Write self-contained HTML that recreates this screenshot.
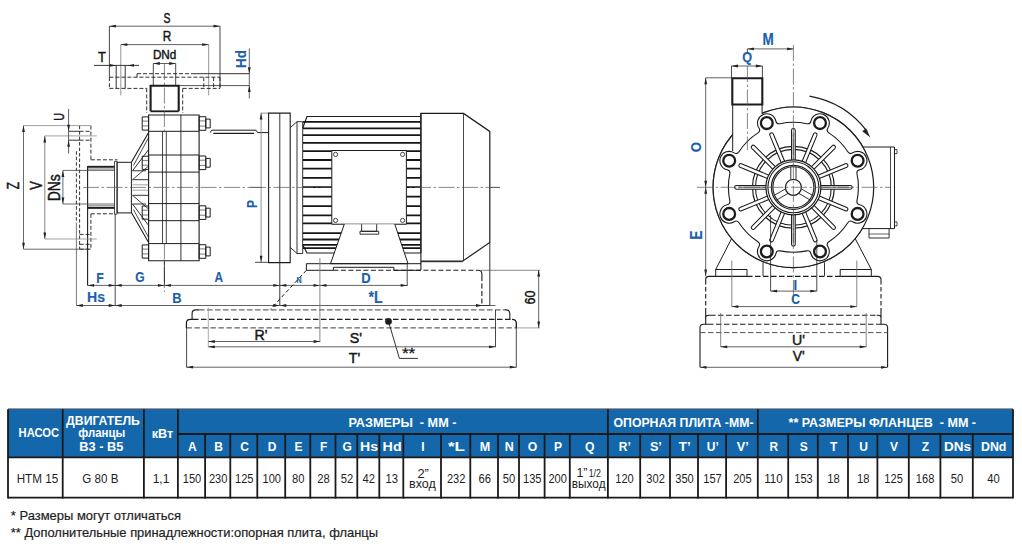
<!DOCTYPE html>
<html><head><meta charset="utf-8"><style>
html,body{margin:0;padding:0;background:#fff;width:1022px;height:560px;overflow:hidden;}
svg{display:block;font-family:"Liberation Sans",sans-serif;}
</style></head><body>
<svg width="1022" height="560" viewBox="0 0 1022 560">
<line x1="109.40" y1="26.20" x2="109.40" y2="77.20" stroke="#333" stroke-width="0.9"/>
<line x1="220.00" y1="26.20" x2="220.00" y2="88.40" stroke="#333" stroke-width="0.9"/>
<line x1="109.40" y1="26.20" x2="220.00" y2="26.20" stroke="#3a3a3a" stroke-width="0.8"/>
<polygon points="109.40,26.20 115.90,24.80 115.90,27.60" fill="#222"/>
<polygon points="220.00,26.20 213.50,27.60 213.50,24.80" fill="#222"/>
<text transform="translate(166.90 18.00) rotate(0) scale(0.68 1)" x="0" y="5.25" font-size="15.26" fill="#161616" font-weight="normal" text-anchor="middle" stroke="#161616" stroke-width="0.45">S</text>
<line x1="120.80" y1="44.60" x2="120.80" y2="95.30" stroke="#8a8a8a" stroke-width="0.9"/>
<line x1="208.70" y1="44.60" x2="208.70" y2="95.30" stroke="#8a8a8a" stroke-width="0.9"/>
<line x1="120.80" y1="44.60" x2="208.70" y2="44.60" stroke="#3a3a3a" stroke-width="0.8"/>
<polygon points="120.80,44.60 127.30,43.20 127.30,46.00" fill="#222"/>
<polygon points="208.70,44.60 202.20,46.00 202.20,43.20" fill="#222"/>
<text transform="translate(167.00 35.90) rotate(0) scale(0.76 1)" x="0" y="5.35" font-size="15.55" fill="#161616" font-weight="normal" text-anchor="middle" stroke="#161616" stroke-width="0.45">R</text>
<text transform="translate(102.00 56.50) rotate(0) scale(0.86 1)" x="0" y="5.15" font-size="14.97" fill="#161616" font-weight="normal" text-anchor="middle" stroke="#161616" stroke-width="0.45">T</text>
<line x1="94.00" y1="65.40" x2="139.00" y2="65.40" stroke="#222" stroke-width="0.9"/>
<polygon points="116.20,65.40 109.70,66.80 109.70,64.00" fill="#222"/>
<polygon points="127.50,65.40 134.00,64.00 134.00,66.80" fill="#222"/>
<line x1="116.20" y1="65.40" x2="116.20" y2="88.40" stroke="#1c1c1c" stroke-width="0.9"/>
<line x1="125.20" y1="65.40" x2="125.20" y2="88.40" stroke="#1c1c1c" stroke-width="0.9"/>
<text transform="translate(164.60 54.90) rotate(0) scale(0.95 1)" x="0" y="4.25" font-size="12.35" fill="#161616" font-weight="normal" text-anchor="middle" stroke="#161616" stroke-width="0.45">DNd</text>
<line x1="153.30" y1="63.50" x2="175.70" y2="63.50" stroke="#3a3a3a" stroke-width="0.8"/>
<polygon points="153.30,63.50 159.80,62.10 159.80,64.90" fill="#222"/>
<polygon points="175.70,63.50 169.20,64.90 169.20,62.10" fill="#222"/>
<line x1="153.30" y1="63.50" x2="153.30" y2="85.70" stroke="#1c1c1c" stroke-width="0.8"/>
<line x1="175.70" y1="63.50" x2="175.70" y2="85.70" stroke="#1c1c1c" stroke-width="0.8"/>
<line x1="192.00" y1="73.70" x2="249.30" y2="73.70" stroke="#1c1c1c" stroke-width="0.9"/>
<line x1="178.70" y1="85.60" x2="249.30" y2="85.60" stroke="#444" stroke-width="0.9"/>
<line x1="249.30" y1="48.50" x2="249.30" y2="98.50" stroke="#3a3a3a" stroke-width="0.8"/>
<polygon points="249.30,73.70 247.90,67.20 250.70,67.20" fill="#222"/>
<polygon points="249.30,85.60 250.70,92.10 247.90,92.10" fill="#222"/>
<text transform="translate(241.30 59.00) rotate(-90) scale(0.9 1)" x="0" y="5.15" font-size="14.97" fill="#1a60ab" font-weight="bold" text-anchor="middle" stroke="#1a60ab" stroke-width="0.15">Hd</text>
<line x1="137.00" y1="73.70" x2="192.00" y2="73.70" stroke="#1c1c1c" stroke-width="0.9" stroke-dasharray="4,2"/>
<line x1="137.00" y1="73.70" x2="137.00" y2="77.20" stroke="#1c1c1c" stroke-width="0.9" stroke-dasharray="4,2"/>
<line x1="109.40" y1="77.20" x2="220.00" y2="77.20" stroke="#1c1c1c" stroke-width="0.9" stroke-dasharray="4,2"/>
<line x1="109.40" y1="77.20" x2="109.40" y2="88.40" stroke="#1c1c1c" stroke-width="0.9" stroke-dasharray="4,2"/>
<line x1="220.00" y1="77.20" x2="220.00" y2="88.40" stroke="#1c1c1c" stroke-width="0.9" stroke-dasharray="4,2"/>
<line x1="109.40" y1="88.40" x2="146.70" y2="88.40" stroke="#1c1c1c" stroke-width="0.9" stroke-dasharray="4,2"/>
<line x1="182.70" y1="88.40" x2="220.00" y2="88.40" stroke="#1c1c1c" stroke-width="0.9" stroke-dasharray="4,2"/>
<line x1="203.80" y1="77.20" x2="203.80" y2="88.40" stroke="#1c1c1c" stroke-width="0.9" stroke-dasharray="4,2"/>
<line x1="213.60" y1="77.20" x2="213.60" y2="88.40" stroke="#1c1c1c" stroke-width="0.9" stroke-dasharray="4,2"/>
<line x1="146.70" y1="88.40" x2="146.70" y2="113.00" stroke="#1c1c1c" stroke-width="0.9" stroke-dasharray="4,2"/>
<line x1="182.70" y1="88.40" x2="182.70" y2="113.00" stroke="#1c1c1c" stroke-width="0.9" stroke-dasharray="4,2"/>
<polyline points="150.60,111.30 150.60,85.70 178.70,85.70 178.70,111.30" fill="none" stroke="#1c1c1c" stroke-width="2.1"/>
<line x1="150.60" y1="111.30" x2="178.70" y2="111.30" stroke="#1c1c1c" stroke-width="1.8"/>
<line x1="164.40" y1="64.00" x2="164.40" y2="131.00" stroke="#555" stroke-width="0.7" stroke-dasharray="16,2.5,2.5,2.5"/>
<line x1="164.40" y1="243.60" x2="164.40" y2="292.00" stroke="#555" stroke-width="0.7" stroke-dasharray="16,2.5,2.5,2.5"/>
<polygon points="148.60,115.00 199.10,115.00 199.10,260.70 148.60,260.70" fill="none" stroke="#1c1c1c" stroke-width="1.1"/>
<line x1="148.60" y1="131.30" x2="199.10" y2="131.30" stroke="#1c1c1c" stroke-width="1.0"/>
<line x1="148.60" y1="155.00" x2="199.10" y2="155.00" stroke="#1c1c1c" stroke-width="1.0"/>
<line x1="148.60" y1="172.10" x2="199.10" y2="172.10" stroke="#1c1c1c" stroke-width="1.0"/>
<line x1="148.60" y1="203.60" x2="199.10" y2="203.60" stroke="#1c1c1c" stroke-width="1.0"/>
<line x1="148.60" y1="220.70" x2="199.10" y2="220.70" stroke="#1c1c1c" stroke-width="1.0"/>
<line x1="148.60" y1="243.60" x2="199.10" y2="243.60" stroke="#1c1c1c" stroke-width="1.0"/>
<line x1="180.90" y1="115.00" x2="180.90" y2="260.70" stroke="#1c1c1c" stroke-width="0.9"/>
<line x1="162.50" y1="131.30" x2="162.50" y2="243.60" stroke="#1c1c1c" stroke-width="0.8"/>
<line x1="166.30" y1="131.30" x2="166.30" y2="243.60" stroke="#1c1c1c" stroke-width="0.8"/>
<polygon points="142.20,116.90 148.60,116.90 148.60,130.10 142.20,130.10" fill="none" stroke="#1c1c1c" stroke-width="1.0"/>
<line x1="142.20" y1="121.10" x2="148.60" y2="121.10" stroke="#1c1c1c" stroke-width="0.6"/>
<line x1="142.20" y1="125.90" x2="148.60" y2="125.90" stroke="#1c1c1c" stroke-width="0.6"/>
<polygon points="199.10,116.70 205.80,116.70 205.80,130.30 199.10,130.30" fill="none" stroke="#1c1c1c" stroke-width="1.0"/>
<line x1="199.10" y1="120.90" x2="205.80" y2="120.90" stroke="#1c1c1c" stroke-width="0.6"/>
<line x1="199.10" y1="126.10" x2="205.80" y2="126.10" stroke="#1c1c1c" stroke-width="0.6"/>
<polygon points="205.80,119.10 210.20,119.10 210.20,127.90 205.80,127.90" fill="none" stroke="#1c1c1c" stroke-width="1.0"/>
<polygon points="142.20,156.20 148.60,156.20 148.60,169.40 142.20,169.40" fill="none" stroke="#1c1c1c" stroke-width="1.0"/>
<line x1="142.20" y1="160.40" x2="148.60" y2="160.40" stroke="#1c1c1c" stroke-width="0.6"/>
<line x1="142.20" y1="165.20" x2="148.60" y2="165.20" stroke="#1c1c1c" stroke-width="0.6"/>
<polygon points="199.10,156.00 205.80,156.00 205.80,169.60 199.10,169.60" fill="none" stroke="#1c1c1c" stroke-width="1.0"/>
<line x1="199.10" y1="160.20" x2="205.80" y2="160.20" stroke="#1c1c1c" stroke-width="0.6"/>
<line x1="199.10" y1="165.40" x2="205.80" y2="165.40" stroke="#1c1c1c" stroke-width="0.6"/>
<polygon points="205.80,158.40 210.20,158.40 210.20,167.20 205.80,167.20" fill="none" stroke="#1c1c1c" stroke-width="1.0"/>
<polygon points="142.20,206.00 148.60,206.00 148.60,219.20 142.20,219.20" fill="none" stroke="#1c1c1c" stroke-width="1.0"/>
<line x1="142.20" y1="210.20" x2="148.60" y2="210.20" stroke="#1c1c1c" stroke-width="0.6"/>
<line x1="142.20" y1="215.00" x2="148.60" y2="215.00" stroke="#1c1c1c" stroke-width="0.6"/>
<polygon points="199.10,205.80 205.80,205.80 205.80,219.40 199.10,219.40" fill="none" stroke="#1c1c1c" stroke-width="1.0"/>
<line x1="199.10" y1="210.00" x2="205.80" y2="210.00" stroke="#1c1c1c" stroke-width="0.6"/>
<line x1="199.10" y1="215.20" x2="205.80" y2="215.20" stroke="#1c1c1c" stroke-width="0.6"/>
<polygon points="205.80,208.20 210.20,208.20 210.20,217.00 205.80,217.00" fill="none" stroke="#1c1c1c" stroke-width="1.0"/>
<polygon points="142.20,244.90 148.60,244.90 148.60,258.10 142.20,258.10" fill="none" stroke="#1c1c1c" stroke-width="1.0"/>
<line x1="142.20" y1="249.10" x2="148.60" y2="249.10" stroke="#1c1c1c" stroke-width="0.6"/>
<line x1="142.20" y1="253.90" x2="148.60" y2="253.90" stroke="#1c1c1c" stroke-width="0.6"/>
<polygon points="199.10,244.70 205.80,244.70 205.80,258.30 199.10,258.30" fill="none" stroke="#1c1c1c" stroke-width="1.0"/>
<line x1="199.10" y1="248.90" x2="205.80" y2="248.90" stroke="#1c1c1c" stroke-width="0.6"/>
<line x1="199.10" y1="254.10" x2="205.80" y2="254.10" stroke="#1c1c1c" stroke-width="0.6"/>
<polygon points="205.80,247.10 210.20,247.10 210.20,255.90 205.80,255.90" fill="none" stroke="#1c1c1c" stroke-width="1.0"/>
<line x1="131.40" y1="162.30" x2="148.60" y2="132.50" stroke="#1c1c1c" stroke-width="1.1"/>
<line x1="133.50" y1="165.50" x2="148.60" y2="137.50" stroke="#1c1c1c" stroke-width="0.8"/>
<line x1="131.40" y1="212.50" x2="148.60" y2="242.50" stroke="#1c1c1c" stroke-width="1.1"/>
<line x1="133.50" y1="209.50" x2="148.60" y2="237.50" stroke="#1c1c1c" stroke-width="0.8"/>
<line x1="132.50" y1="170.80" x2="148.60" y2="149.60" stroke="#1c1c1c" stroke-width="0.9"/>
<line x1="132.50" y1="204.00" x2="148.60" y2="225.40" stroke="#1c1c1c" stroke-width="0.9"/>
<line x1="132.50" y1="170.80" x2="146.00" y2="170.80" stroke="#1c1c1c" stroke-width="0.9"/>
<line x1="132.50" y1="204.00" x2="146.00" y2="204.00" stroke="#1c1c1c" stroke-width="0.9"/>
<line x1="132.50" y1="179.70" x2="148.60" y2="166.00" stroke="#1c1c1c" stroke-width="0.8"/>
<line x1="132.50" y1="195.30" x2="148.60" y2="209.00" stroke="#1c1c1c" stroke-width="0.8"/>
<line x1="132.50" y1="179.70" x2="148.60" y2="179.70" stroke="#1c1c1c" stroke-width="0.9"/>
<line x1="132.50" y1="195.30" x2="148.60" y2="195.30" stroke="#1c1c1c" stroke-width="0.9"/>
<line x1="132.50" y1="184.80" x2="148.60" y2="184.80" stroke="#666" stroke-width="0.6"/>
<line x1="132.50" y1="190.20" x2="148.60" y2="190.20" stroke="#666" stroke-width="0.6"/>
<polygon points="117.10,162.30 131.40,162.30 131.40,212.90 117.10,212.90" fill="none" stroke="#1c1c1c" stroke-width="1.0"/>
<polygon points="114.50,161.40 117.10,161.40 117.10,214.10 114.50,214.10" fill="none" stroke="#1c1c1c" stroke-width="0.8"/>
<line x1="87.70" y1="166.80" x2="114.50" y2="166.80" stroke="#1c1c1c" stroke-width="1.9"/>
<line x1="87.70" y1="207.90" x2="114.50" y2="207.90" stroke="#1c1c1c" stroke-width="1.9"/>
<line x1="87.70" y1="169.00" x2="114.50" y2="169.00" stroke="#1c1c1c" stroke-width="0.6"/>
<line x1="87.70" y1="205.80" x2="114.50" y2="205.80" stroke="#1c1c1c" stroke-width="0.6"/>
<line x1="87.60" y1="166.00" x2="87.60" y2="285.40" stroke="#1c1c1c" stroke-width="1.1"/>
<line x1="83.00" y1="187.40" x2="262.00" y2="187.40" stroke="#555" stroke-width="0.7" stroke-dasharray="16,2.5,2.5,2.5"/>
<line x1="79.60" y1="125.60" x2="79.60" y2="249.20" stroke="#1c1c1c" stroke-width="0.9" stroke-dasharray="3.5,2"/>
<line x1="76.40" y1="151.20" x2="76.40" y2="223.60" stroke="#1c1c1c" stroke-width="0.9" stroke-dasharray="3.5,2"/>
<line x1="76.40" y1="223.60" x2="76.40" y2="305.50" stroke="#555" stroke-width="0.8"/>
<line x1="90.90" y1="125.60" x2="90.90" y2="159.80" stroke="#1c1c1c" stroke-width="0.9" stroke-dasharray="4,2"/>
<line x1="90.90" y1="159.80" x2="117.50" y2="159.80" stroke="#1c1c1c" stroke-width="0.9" stroke-dasharray="4,2"/>
<line x1="90.90" y1="213.80" x2="90.90" y2="249.20" stroke="#1c1c1c" stroke-width="0.9" stroke-dasharray="4,2"/>
<line x1="90.90" y1="213.80" x2="114.50" y2="213.80" stroke="#1c1c1c" stroke-width="0.9" stroke-dasharray="4,2"/>
<line x1="79.60" y1="131.30" x2="90.90" y2="131.30" stroke="#1c1c1c" stroke-width="0.9" stroke-dasharray="4,2"/>
<line x1="79.60" y1="140.20" x2="90.90" y2="140.20" stroke="#1c1c1c" stroke-width="0.9" stroke-dasharray="4,2"/>
<line x1="79.60" y1="234.40" x2="90.90" y2="234.40" stroke="#1c1c1c" stroke-width="0.9" stroke-dasharray="4,2"/>
<line x1="79.60" y1="244.30" x2="90.90" y2="244.30" stroke="#1c1c1c" stroke-width="0.9" stroke-dasharray="4,2"/>
<line x1="79.60" y1="249.20" x2="90.90" y2="249.20" stroke="#1c1c1c" stroke-width="0.9" stroke-dasharray="4,2"/>
<line x1="68.60" y1="131.30" x2="79.60" y2="131.30" stroke="#1c1c1c" stroke-width="0.9"/>
<line x1="68.60" y1="140.20" x2="79.60" y2="140.20" stroke="#1c1c1c" stroke-width="0.9"/>
<line x1="23.50" y1="125.60" x2="90.90" y2="125.60" stroke="#8a8a8a" stroke-width="0.8"/>
<line x1="23.50" y1="249.20" x2="90.90" y2="249.20" stroke="#444" stroke-width="0.8"/>
<line x1="23.50" y1="125.60" x2="23.50" y2="249.20" stroke="#444" stroke-width="0.8"/>
<polygon points="23.50,125.60 24.90,132.10 22.10,132.10" fill="#222"/>
<polygon points="23.50,249.20 22.10,242.70 24.90,242.70" fill="#222"/>
<text transform="translate(13.60 185.70) rotate(-90) scale(0.74 1)" x="0" y="5.45" font-size="15.84" fill="#161616" font-weight="normal" text-anchor="middle" stroke="#161616" stroke-width="0.45">Z</text>
<line x1="44.80" y1="135.90" x2="96.70" y2="135.90" stroke="#8a8a8a" stroke-width="0.8"/>
<line x1="44.80" y1="239.00" x2="96.70" y2="239.00" stroke="#8a8a8a" stroke-width="0.8"/>
<line x1="44.80" y1="135.90" x2="44.80" y2="239.00" stroke="#666" stroke-width="0.8"/>
<polygon points="44.80,135.90 46.20,142.40 43.40,142.40" fill="#222"/>
<polygon points="44.80,239.00 43.40,232.50 46.20,232.50" fill="#222"/>
<text transform="translate(36.50 185.50) rotate(-90) scale(0.8 1)" x="0" y="5.45" font-size="15.84" fill="#161616" font-weight="normal" text-anchor="middle" stroke="#161616" stroke-width="0.45">V</text>
<line x1="62.90" y1="170.40" x2="114.50" y2="170.40" stroke="#444" stroke-width="0.8"/>
<line x1="62.90" y1="204.00" x2="114.50" y2="204.00" stroke="#444" stroke-width="0.8"/>
<line x1="62.90" y1="170.40" x2="62.90" y2="204.00" stroke="#444" stroke-width="0.8"/>
<polygon points="62.90,170.40 64.30,176.90 61.50,176.90" fill="#222"/>
<polygon points="62.90,204.00 61.50,197.50 64.30,197.50" fill="#222"/>
<text transform="translate(54.90 187.70) rotate(-90) scale(0.87 1)" x="0" y="5.50" font-size="15.99" fill="#161616" font-weight="normal" text-anchor="middle" stroke="#161616" stroke-width="0.45">DNs</text>
<line x1="68.60" y1="108.90" x2="68.60" y2="153.60" stroke="#333" stroke-width="0.8"/>
<polygon points="68.60,131.30 67.20,124.80 70.00,124.80" fill="#222"/>
<polygon points="68.60,140.20 70.00,146.70 67.20,146.70" fill="#222"/>
<text transform="translate(59.20 116.80) rotate(-90) scale(0.72 1)" x="0" y="5.15" font-size="14.97" fill="#161616" font-weight="normal" text-anchor="middle" stroke="#161616" stroke-width="0.45">U</text>
<polyline points="210.20,132.60 211.70,130.20 256.00,130.20 257.50,132.60 268.60,132.60" fill="none" stroke="#1c1c1c" stroke-width="1.0"/>
<line x1="213.30" y1="133.40" x2="254.00" y2="133.40" stroke="#1c1c1c" stroke-width="1.3"/>
<line x1="261.10" y1="113.10" x2="261.10" y2="262.30" stroke="#777" stroke-width="0.8"/>
<polygon points="261.10,113.10 262.50,119.60 259.70,119.60" fill="#222"/>
<polygon points="261.10,262.30 259.70,255.80 262.50,255.80" fill="#222"/>
<line x1="260.50" y1="113.10" x2="268.60" y2="113.10" stroke="#777" stroke-width="0.8"/>
<line x1="255.00" y1="262.30" x2="268.70" y2="262.30" stroke="#1c1c1c" stroke-width="0.8"/>
<text transform="translate(251.70 204.00) rotate(-90) scale(0.85 1)" x="0" y="4.85" font-size="14.10" fill="#1a60ab" font-weight="bold" text-anchor="middle" stroke="#1a60ab" stroke-width="0.15">P</text>
<polygon points="268.60,113.10 290.20,113.10 290.20,262.60 268.60,262.60" fill="none" stroke="#1c1c1c" stroke-width="1.1"/>
<line x1="279.80" y1="113.10" x2="279.80" y2="305.40" stroke="#1c1c1c" stroke-width="0.9"/>
<polyline points="290.20,127.70 297.00,121.70 302.70,121.70" fill="none" stroke="#1c1c1c" stroke-width="0.9"/>
<polyline points="290.20,247.40 297.00,253.50 302.70,253.50" fill="none" stroke="#1c1c1c" stroke-width="0.9"/>
<line x1="297.00" y1="121.70" x2="297.00" y2="253.50" stroke="#1c1c1c" stroke-width="0.9"/>
<line x1="302.70" y1="121.70" x2="302.70" y2="253.50" stroke="#1c1c1c" stroke-width="0.9"/>
<polyline points="302.70,128.00 307.00,116.50 421.00,116.50" fill="none" stroke="#1c1c1c" stroke-width="1.2"/>
<polyline points="302.70,245.00 307.00,253.00 421.00,253.00" fill="none" stroke="#1c1c1c" stroke-width="1.2"/>
<line x1="303.00" y1="121.80" x2="421.00" y2="121.80" stroke="#151515" stroke-width="1.8"/>
<line x1="303.00" y1="128.40" x2="421.00" y2="128.40" stroke="#151515" stroke-width="1.8"/>
<line x1="303.00" y1="135.10" x2="421.00" y2="135.10" stroke="#151515" stroke-width="1.8"/>
<line x1="303.00" y1="142.90" x2="421.00" y2="142.90" stroke="#151515" stroke-width="1.8"/>
<line x1="303.00" y1="151.20" x2="421.00" y2="151.20" stroke="#151515" stroke-width="1.8"/>
<line x1="303.00" y1="160.00" x2="421.00" y2="160.00" stroke="#151515" stroke-width="1.8"/>
<line x1="303.00" y1="168.60" x2="421.00" y2="168.60" stroke="#151515" stroke-width="1.8"/>
<line x1="303.00" y1="177.90" x2="421.00" y2="177.90" stroke="#151515" stroke-width="1.8"/>
<line x1="303.00" y1="187.10" x2="421.00" y2="187.10" stroke="#151515" stroke-width="1.8"/>
<line x1="303.00" y1="196.60" x2="421.00" y2="196.60" stroke="#151515" stroke-width="1.8"/>
<line x1="303.00" y1="206.10" x2="421.00" y2="206.10" stroke="#151515" stroke-width="1.8"/>
<line x1="303.00" y1="215.40" x2="421.00" y2="215.40" stroke="#151515" stroke-width="1.8"/>
<line x1="303.00" y1="223.40" x2="421.00" y2="223.40" stroke="#151515" stroke-width="1.8"/>
<line x1="303.00" y1="233.20" x2="421.00" y2="233.20" stroke="#151515" stroke-width="1.8"/>
<line x1="303.00" y1="239.50" x2="421.00" y2="239.50" stroke="#151515" stroke-width="1.8"/>
<line x1="303.00" y1="244.80" x2="421.00" y2="244.80" stroke="#151515" stroke-width="1.8"/>
<line x1="303.00" y1="248.20" x2="421.00" y2="248.20" stroke="#151515" stroke-width="1.8"/>
<line x1="250.00" y1="187.40" x2="500.00" y2="187.40" stroke="#555" stroke-width="0.7" stroke-dasharray="16,2.5,2.5,2.5"/>
<polygon points="331.80,150.50 406.40,150.50 406.40,224.20 331.80,224.20" fill="#fff" stroke="#1c1c1c" stroke-width="1.0"/>
<circle cx="335.60" cy="154.40" r="2.1" fill="none" stroke="#1c1c1c" stroke-width="0.8"/>
<circle cx="402.60" cy="154.40" r="2.1" fill="none" stroke="#1c1c1c" stroke-width="0.8"/>
<circle cx="335.60" cy="220.40" r="2.1" fill="none" stroke="#1c1c1c" stroke-width="0.8"/>
<circle cx="402.60" cy="220.40" r="2.1" fill="none" stroke="#1c1c1c" stroke-width="0.8"/>
<polyline points="344.30,224.20 330.50,263.70 408.00,263.70 394.80,224.20" fill="#fff" stroke="#1c1c1c" stroke-width="1.0"/>
<polyline points="361.60,224.20 361.60,231.30 376.70,231.30 376.70,224.20" fill="none" stroke="#1c1c1c" stroke-width="0.9"/>
<polygon points="360.00,231.30 378.70,231.30 378.70,234.20 360.00,234.20" fill="none" stroke="#1c1c1c" stroke-width="0.9"/>
<polyline points="306.40,263.70 421.00,263.70" fill="none" stroke="#1c1c1c" stroke-width="1.0"/>
<polyline points="306.40,263.70 306.40,270.30 333.40,270.30 333.40,267.30 393.90,267.30 393.90,270.30 421.00,270.30" fill="none" stroke="#1c1c1c" stroke-width="1.0"/>
<line x1="421.00" y1="261.70" x2="462.50" y2="261.70" stroke="#1c1c1c" stroke-width="1.0"/>
<polyline points="420.90,253.00 420.90,113.40 463.50,113.40 489.80,131.40 489.80,242.50 462.50,261.20 421.00,261.20" fill="#fff" stroke="#1c1c1c" stroke-width="1.2"/>
<line x1="463.50" y1="113.40" x2="463.50" y2="261.20" stroke="#1c1c1c" stroke-width="0.8"/>
<line x1="420.90" y1="113.40" x2="420.90" y2="270.00" stroke="#1c1c1c" stroke-width="1.1"/>
<line x1="415.00" y1="187.40" x2="500.00" y2="187.40" stroke="#555" stroke-width="0.7" stroke-dasharray="16,2.5,2.5,2.5"/>
<line x1="489.80" y1="242.50" x2="489.80" y2="305.50" stroke="#1c1c1c" stroke-width="0.9"/>
<line x1="333.40" y1="270.30" x2="478.00" y2="270.30" stroke="#1c1c1c" stroke-width="1.1" stroke-dasharray="5,2.5"/>
<path d="M 478 270.3 Q 481.9 270.3 481.9 274 L 481.9 276" fill="none" stroke="#1c1c1c" stroke-width="1.1" />
<line x1="481.90" y1="276.00" x2="481.90" y2="305.50" stroke="#1c1c1c" stroke-width="1.1" stroke-dasharray="5,2.5"/>
<line x1="481.90" y1="305.50" x2="489.80" y2="305.50" stroke="#1c1c1c" stroke-width="1.0"/>
<path d="M 192.1 319.3 L 192.1 313.5 Q 192.1 309.9 196 309.9 L 199 309.9" fill="none" stroke="#1c1c1c" stroke-width="1.1" />
<line x1="199.00" y1="309.90" x2="505.00" y2="309.90" stroke="#666" stroke-width="1.1" stroke-dasharray="5.5,2.5"/>
<path d="M 505 309.9 L 506 309.9 Q 509.8 309.9 509.8 313.5 L 509.8 319.3" fill="none" stroke="#1c1c1c" stroke-width="1.1" />
<path d="M 186.4 327.9 L 186.4 323 Q 186.4 319.3 190.5 319.3 L 193 319.3" fill="none" stroke="#1c1c1c" stroke-width="1.2" />
<line x1="193.00" y1="319.30" x2="512.00" y2="319.30" stroke="#1c1c1c" stroke-width="1.2" stroke-dasharray="5.5,2.5"/>
<path d="M 512 319.3 Q 516.4 319.3 516.4 323.5 L 516.4 327.9" fill="none" stroke="#1c1c1c" stroke-width="1.2" />
<line x1="186.40" y1="327.90" x2="516.40" y2="327.90" stroke="#666" stroke-width="1.1" stroke-dasharray="5.5,2.5"/>
<circle cx="388.50" cy="321.40" r="3.2" fill="#1c1c1c" stroke="#1c1c1c" stroke-width="0.5"/>
<polyline points="388.50,321.40 399.40,358.40 417.90,358.40" fill="none" stroke="#1c1c1c" stroke-width="0.9"/>
<text transform="translate(408.60 353.00) rotate(0) scale(1.25 1)" x="0" y="4.75" font-size="13.81" fill="#161616" font-weight="normal" text-anchor="middle" stroke="#161616" stroke-width="0.25">**</text>
<line x1="481.00" y1="270.30" x2="540.00" y2="270.30" stroke="#555" stroke-width="0.7"/>
<line x1="516.40" y1="327.90" x2="540.00" y2="327.90" stroke="#777" stroke-width="0.7"/>
<line x1="538.70" y1="270.00" x2="538.70" y2="327.90" stroke="#3a3a3a" stroke-width="0.8"/>
<polygon points="538.70,270.00 540.10,276.50 537.30,276.50" fill="#222"/>
<polygon points="538.70,327.90 537.30,321.40 540.10,321.40" fill="#222"/>
<text transform="translate(530.00 297.50) rotate(-90) scale(0.82 1)" x="0" y="5.25" font-size="15.26" fill="#161616" font-weight="normal" text-anchor="middle" stroke="#161616" stroke-width="0.45">60</text>
<line x1="87.60" y1="285.40" x2="407.20" y2="285.40" stroke="#3a3a3a" stroke-width="0.8"/>
<polygon points="87.60,285.40 94.10,284.00 94.10,286.80" fill="#222"/>
<polygon points="115.20,285.40 108.70,286.80 108.70,284.00" fill="#222"/>
<polygon points="115.20,285.40 121.70,284.00 121.70,286.80" fill="#222"/>
<polygon points="164.40,285.40 157.90,286.80 157.90,284.00" fill="#222"/>
<polygon points="164.40,285.40 170.90,284.00 170.90,286.80" fill="#222"/>
<polygon points="279.80,285.40 273.30,286.80 273.30,284.00" fill="#222"/>
<polygon points="279.80,285.40 286.30,284.00 286.30,286.80" fill="#222"/>
<polygon points="320.00,285.40 313.50,286.80 313.50,284.00" fill="#222"/>
<polygon points="320.00,285.40 326.50,284.00 326.50,286.80" fill="#222"/>
<polygon points="407.20,285.40 400.70,286.80 400.70,284.00" fill="#222"/>
<line x1="115.20" y1="214.00" x2="115.20" y2="305.50" stroke="#1c1c1c" stroke-width="0.8"/>
<line x1="164.40" y1="260.70" x2="164.40" y2="285.40" stroke="#1c1c1c" stroke-width="0.8"/>
<line x1="76.40" y1="305.50" x2="495.50" y2="305.50" stroke="#3a3a3a" stroke-width="0.8"/>
<polygon points="76.40,305.50 82.90,304.10 82.90,306.90" fill="#222"/>
<polygon points="115.20,305.50 108.70,306.90 108.70,304.10" fill="#222"/>
<polygon points="115.20,305.50 121.70,304.10 121.70,306.90" fill="#222"/>
<polygon points="279.80,305.50 273.30,306.90 273.30,304.10" fill="#222"/>
<polygon points="279.80,305.50 286.30,304.10 286.30,306.90" fill="#222"/>
<polygon points="482.50,305.50 476.00,306.90 476.00,304.10" fill="#222"/>
<line x1="407.20" y1="264.00" x2="407.20" y2="286.00" stroke="#1c1c1c" stroke-width="0.8"/>
<line x1="319.90" y1="258.00" x2="319.90" y2="342.00" stroke="#777" stroke-width="0.9"/>
<text transform="translate(100.00 277.60) rotate(0) scale(0.83 1)" x="0" y="5.10" font-size="14.83" fill="#1a60ab" font-weight="bold" text-anchor="middle" stroke="#1a60ab" stroke-width="0.15">F</text>
<text transform="translate(139.90 277.20) rotate(0) scale(0.85 1)" x="0" y="4.90" font-size="14.24" fill="#1a60ab" font-weight="bold" text-anchor="middle" stroke="#1a60ab" stroke-width="0.15">G</text>
<text transform="translate(218.90 277.20) rotate(0) scale(0.85 1)" x="0" y="4.80" font-size="13.95" fill="#1a60ab" font-weight="bold" text-anchor="middle" stroke="#1a60ab" stroke-width="0.15">A</text>
<text transform="translate(96.00 296.40) rotate(0) scale(0.95 1)" x="0" y="5.10" font-size="14.83" fill="#1a60ab" font-weight="bold" text-anchor="middle" stroke="#1a60ab" stroke-width="0.15">Hs</text>
<text transform="translate(177.00 297.30) rotate(0) scale(0.85 1)" x="0" y="5.20" font-size="15.12" fill="#1a60ab" font-weight="bold" text-anchor="middle" stroke="#1a60ab" stroke-width="0.15">B</text>
<text transform="translate(366.00 277.50) rotate(0) scale(0.85 1)" x="0" y="5.25" font-size="15.26" fill="#1a60ab" font-weight="bold" text-anchor="middle" stroke="#1a60ab" stroke-width="0.15">D</text>
<text transform="translate(375.60 297.40) rotate(0) scale(0.9 1)" x="0" y="5.40" font-size="15.70" fill="#1a60ab" font-weight="bold" text-anchor="middle" stroke="#1a60ab" stroke-width="0.15">*L</text>
<text transform="translate(299.00 279.70) rotate(0) scale(0.8 1)" x="0" y="3.05" font-size="8.87" fill="#1a60ab" font-weight="bold" text-anchor="middle" stroke="#1a60ab" stroke-width="0.15">N</text>
<line x1="306.40" y1="270.30" x2="270.10" y2="309.60" stroke="#1c1c1c" stroke-width="1.0" stroke-dasharray="4,2.5"/>
<line x1="208.30" y1="307.40" x2="208.30" y2="347.20" stroke="#999" stroke-width="0.8"/>
<line x1="208.30" y1="341.50" x2="320.10" y2="341.50" stroke="#3a3a3a" stroke-width="0.8"/>
<polygon points="208.30,341.50 214.80,340.10 214.80,342.90" fill="#222"/>
<polygon points="320.10,341.50 313.60,342.90 313.60,340.10" fill="#222"/>
<text transform="translate(261.00 334.70) rotate(0) scale(0.98 1)" x="0" y="5.00" font-size="14.53" fill="#161616" font-weight="normal" text-anchor="middle" stroke="#161616" stroke-width="0.45">R'</text>
<line x1="208.30" y1="346.80" x2="495.50" y2="346.80" stroke="#3a3a3a" stroke-width="0.8"/>
<polygon points="208.30,346.80 214.80,345.40 214.80,348.20" fill="#222"/>
<polygon points="495.50,346.80 489.00,348.20 489.00,345.40" fill="#222"/>
<line x1="495.50" y1="310.00" x2="495.50" y2="347.20" stroke="#1c1c1c" stroke-width="0.8"/>
<text transform="translate(355.80 337.60) rotate(0) scale(0.98 1)" x="0" y="5.00" font-size="14.53" fill="#161616" font-weight="normal" text-anchor="middle" stroke="#161616" stroke-width="0.45">S'</text>
<line x1="186.60" y1="322.40" x2="186.60" y2="367.50" stroke="#1c1c1c" stroke-width="0.8"/>
<line x1="516.30" y1="322.50" x2="516.30" y2="367.50" stroke="#1c1c1c" stroke-width="0.8"/>
<line x1="186.60" y1="367.20" x2="516.30" y2="367.20" stroke="#3a3a3a" stroke-width="0.8"/>
<polygon points="186.60,367.20 193.10,365.80 193.10,368.60" fill="#222"/>
<polygon points="516.30,367.20 509.80,368.60 509.80,365.80" fill="#222"/>
<text transform="translate(354.50 357.60) rotate(0) scale(0.98 1)" x="0" y="5.00" font-size="14.53" fill="#161616" font-weight="normal" text-anchor="middle" stroke="#161616" stroke-width="0.45">T'</text>
<line x1="747.40" y1="48.90" x2="793.60" y2="48.90" stroke="#3a3a3a" stroke-width="0.8"/>
<polygon points="747.40,48.90 753.90,47.50 753.90,50.30" fill="#222"/>
<polygon points="793.60,48.90 787.10,50.30 787.10,47.50" fill="#222"/>
<line x1="747.40" y1="48.90" x2="747.40" y2="52.00" stroke="#1c1c1c" stroke-width="0.8"/>
<text transform="translate(768.00 39.40) rotate(0) scale(0.85 1)" x="0" y="5.45" font-size="15.84" fill="#1a60ab" font-weight="bold" text-anchor="middle" stroke="#1a60ab" stroke-width="0.15">M</text>
<line x1="731.50" y1="66.00" x2="762.40" y2="66.00" stroke="#3a3a3a" stroke-width="0.8"/>
<polygon points="731.50,66.00 738.00,64.60 738.00,67.40" fill="#222"/>
<polygon points="762.40,66.00 755.90,67.40 755.90,64.60" fill="#222"/>
<line x1="731.50" y1="66.00" x2="731.50" y2="78.00" stroke="#1c1c1c" stroke-width="0.8"/>
<line x1="762.40" y1="66.00" x2="762.40" y2="78.00" stroke="#1c1c1c" stroke-width="0.8"/>
<text transform="translate(747.20 57.30) rotate(0) scale(0.85 1)" x="0" y="5.10" font-size="14.83" fill="#1a60ab" font-weight="bold" text-anchor="middle" stroke="#1a60ab" stroke-width="0.15">Q</text>
<line x1="705.70" y1="77.80" x2="732.00" y2="77.80" stroke="#3a3a3a" stroke-width="0.8"/>
<line x1="705.70" y1="77.80" x2="705.70" y2="276.50" stroke="#3a3a3a" stroke-width="0.8"/>
<polygon points="705.70,77.80 707.10,84.30 704.30,84.30" fill="#222"/>
<polygon points="705.70,187.30 704.30,180.80 707.10,180.80" fill="#222"/>
<polygon points="705.70,187.30 707.10,193.80 704.30,193.80" fill="#222"/>
<polygon points="705.70,276.00 704.30,269.50 707.10,269.50" fill="#222"/>
<text transform="translate(696.00 147.10) rotate(-90) scale(0.85 1)" x="0" y="5.35" font-size="15.55" fill="#1a60ab" font-weight="bold" text-anchor="middle" stroke="#1a60ab" stroke-width="0.15">O</text>
<text transform="translate(696.40 235.00) rotate(-90) scale(0.85 1)" x="0" y="5.65" font-size="16.42" fill="#1a60ab" font-weight="bold" text-anchor="middle" stroke="#1a60ab" stroke-width="0.15">E</text>
<circle cx="793.40" cy="187.30" r="80.3" fill="#fff" stroke="#1c1c1c" stroke-width="1.2"/>
<polyline points="862.00,147.00 894.50,147.00 894.50,228.60 862.00,228.60" fill="#fff" stroke="#1c1c1c" stroke-width="1.0"/>
<line x1="890.50" y1="147.00" x2="890.50" y2="228.60" stroke="#1c1c1c" stroke-width="0.8"/>
<polyline points="894.50,149.60 897.00,149.60 897.00,153.60 894.50,153.60" fill="none" stroke="#1c1c1c" stroke-width="0.8"/>
<polyline points="894.50,221.90 897.00,221.90 897.00,225.90 894.50,225.90" fill="none" stroke="#1c1c1c" stroke-width="0.8"/>
<polyline points="869.00,228.60 869.00,238.00 889.10,238.00 889.10,228.60" fill="none" stroke="#1c1c1c" stroke-width="0.9"/>
<line x1="869.00" y1="234.00" x2="889.10" y2="234.00" stroke="#1c1c1c" stroke-width="0.7"/>
<path d="M 713.10 187.3 A 80.3 80.3 0 0 1 873.70 187.3 A 80.3 80.3 0 0 1 713.10 187.3" fill="#fff" stroke="#1c1c1c" stroke-width="1.2"/>
<polyline points="731.80,238.20 715.70,269.50" fill="none" stroke="#1c1c1c" stroke-width="1.0"/>
<polyline points="855.00,238.20 871.30,269.50" fill="none" stroke="#1c1c1c" stroke-width="1.0"/>
<polyline points="715.70,275.90 715.70,269.50 747.00,269.50 747.00,275.90" fill="none" stroke="#1c1c1c" stroke-width="1.0"/>
<polyline points="840.20,275.90 840.20,269.50 871.30,269.50 871.30,275.90" fill="none" stroke="#1c1c1c" stroke-width="1.0"/>
<line x1="763.00" y1="262.30" x2="763.00" y2="275.90" stroke="#1c1c1c" stroke-width="0.9"/>
<line x1="824.50" y1="262.30" x2="824.50" y2="275.90" stroke="#1c1c1c" stroke-width="0.9"/>
<rect x="732.7" y="78" width="29.4" height="74" fill="#fff"/>
<polygon points="732.30,78.30 762.30,78.30 762.30,104.50 732.30,104.50" fill="none" stroke="#1c1c1c" stroke-width="2.1"/>
<line x1="732.70" y1="104.50" x2="732.70" y2="151.00" stroke="#1c1c1c" stroke-width="1.0"/>
<line x1="762.10" y1="104.50" x2="762.10" y2="114.00" stroke="#1c1c1c" stroke-width="1.0"/>
<path d="M 857.01 200.69 A 3.5 3.5 0 0 0 859.66 204.83 A 9.3 9.3 0 1 1 852.64 221.76 A 3.5 3.5 0 0 0 847.84 222.81 A 65.0 65.0 0 0 1 828.91 241.74 A 3.5 3.5 0 0 0 827.86 246.54 A 9.3 9.3 0 1 1 810.93 253.56 A 3.5 3.5 0 0 0 806.79 250.91 A 65.0 65.0 0 0 1 780.01 250.91 A 3.5 3.5 0 0 0 775.87 253.56 A 9.3 9.3 0 1 1 758.94 246.54 A 3.5 3.5 0 0 0 757.89 241.74 A 65.0 65.0 0 0 1 738.96 222.81 A 3.5 3.5 0 0 0 734.16 221.76 A 9.3 9.3 0 1 1 727.14 204.83 A 3.5 3.5 0 0 0 729.79 200.69 A 65.0 65.0 0 0 1 729.79 173.91 A 3.5 3.5 0 0 0 727.14 169.77 A 9.3 9.3 0 1 1 734.16 152.84 A 3.5 3.5 0 0 0 738.96 151.79 A 65.0 65.0 0 0 1 757.89 132.86 A 3.5 3.5 0 0 0 758.94 128.06 A 9.3 9.3 0 1 1 775.87 121.04 A 3.5 3.5 0 0 0 780.01 123.69 A 65.0 65.0 0 0 1 806.79 123.69 A 3.5 3.5 0 0 0 810.93 121.04 A 9.3 9.3 0 1 1 827.86 128.06 A 3.5 3.5 0 0 0 828.91 132.86 A 65.0 65.0 0 0 1 847.84 151.79 A 3.5 3.5 0 0 0 852.64 152.84 A 9.3 9.3 0 1 1 859.66 169.77 A 3.5 3.5 0 0 0 857.01 173.91 A 65.0 65.0 0 0 1 857.01 200.69 Z" fill="#fff" stroke="#1c1c1c" stroke-width="1.1" />
<circle cx="857.61" cy="213.90" r="5.9" fill="none" stroke="#1c1c1c" stroke-width="2.3"/>
<circle cx="820.00" cy="251.51" r="5.9" fill="none" stroke="#1c1c1c" stroke-width="2.3"/>
<circle cx="766.80" cy="251.51" r="5.9" fill="none" stroke="#1c1c1c" stroke-width="2.3"/>
<circle cx="729.19" cy="213.90" r="5.9" fill="none" stroke="#1c1c1c" stroke-width="2.3"/>
<circle cx="729.19" cy="160.70" r="5.9" fill="none" stroke="#1c1c1c" stroke-width="2.3"/>
<circle cx="766.80" cy="123.09" r="5.9" fill="none" stroke="#1c1c1c" stroke-width="2.3"/>
<circle cx="820.00" cy="123.09" r="5.9" fill="none" stroke="#1c1c1c" stroke-width="2.3"/>
<circle cx="857.61" cy="160.70" r="5.9" fill="none" stroke="#1c1c1c" stroke-width="2.3"/>
<circle cx="793.40" cy="187.30" r="40.9" fill="none" stroke="#1c1c1c" stroke-width="1.2"/>
<circle cx="793.40" cy="187.30" r="37.9" fill="none" stroke="#1c1c1c" stroke-width="1.1"/>
<path d="M 819.40 189.15 L 850.40 189.15 A 1.85 1.85 0 0 0 850.40 185.45 L 819.40 185.45" fill="#fff" stroke="#1c1c1c" stroke-width="1.05" />
<line x1="819.40" y1="187.30" x2="848.90" y2="187.30" stroke="#888" stroke-width="1.6"/>
<path d="M 816.71 198.96 L 845.35 210.82 A 1.85 1.85 0 0 0 846.77 207.40 L 818.13 195.54" fill="#fff" stroke="#1c1c1c" stroke-width="1.05" />
<path d="M 810.48 206.99 L 832.40 228.91 A 1.85 1.85 0 0 0 835.01 226.30 L 813.09 204.38" fill="#fff" stroke="#1c1c1c" stroke-width="1.05" />
<path d="M 801.64 212.03 L 813.50 240.67 A 1.85 1.85 0 0 0 816.92 239.25 L 805.06 210.61" fill="#fff" stroke="#1c1c1c" stroke-width="1.05" />
<path d="M 791.55 213.30 L 791.55 244.30 A 1.85 1.85 0 0 0 795.25 244.30 L 795.25 213.30" fill="#fff" stroke="#1c1c1c" stroke-width="1.05" />
<line x1="793.40" y1="213.30" x2="793.40" y2="242.80" stroke="#888" stroke-width="1.6"/>
<path d="M 781.74 210.61 L 769.88 239.25 A 1.85 1.85 0 0 0 773.30 240.67 L 785.16 212.03" fill="#fff" stroke="#1c1c1c" stroke-width="1.05" />
<path d="M 773.71 204.38 L 751.79 226.30 A 1.85 1.85 0 0 0 754.40 228.91 L 776.32 206.99" fill="#fff" stroke="#1c1c1c" stroke-width="1.05" />
<path d="M 768.67 195.54 L 740.03 207.40 A 1.85 1.85 0 0 0 741.45 210.82 L 770.09 198.96" fill="#fff" stroke="#1c1c1c" stroke-width="1.05" />
<path d="M 767.40 185.45 L 736.40 185.45 A 1.85 1.85 0 0 0 736.40 189.15 L 767.40 189.15" fill="#fff" stroke="#1c1c1c" stroke-width="1.05" />
<line x1="767.40" y1="187.30" x2="737.90" y2="187.30" stroke="#888" stroke-width="1.6"/>
<path d="M 770.09 175.64 L 741.45 163.78 A 1.85 1.85 0 0 0 740.03 167.20 L 768.67 179.06" fill="#fff" stroke="#1c1c1c" stroke-width="1.05" />
<path d="M 776.32 167.61 L 754.40 145.69 A 1.85 1.85 0 0 0 751.79 148.30 L 773.71 170.22" fill="#fff" stroke="#1c1c1c" stroke-width="1.05" />
<path d="M 785.16 162.57 L 773.30 133.93 A 1.85 1.85 0 0 0 769.88 135.35 L 781.74 163.99" fill="#fff" stroke="#1c1c1c" stroke-width="1.05" />
<path d="M 795.25 161.30 L 795.25 130.30 A 1.85 1.85 0 0 0 791.55 130.30 L 791.55 161.30" fill="#fff" stroke="#1c1c1c" stroke-width="1.05" />
<line x1="793.40" y1="161.30" x2="793.40" y2="131.80" stroke="#888" stroke-width="1.6"/>
<path d="M 805.06 163.99 L 816.92 135.35 A 1.85 1.85 0 0 0 813.50 133.93 L 801.64 162.57" fill="#fff" stroke="#1c1c1c" stroke-width="1.05" />
<path d="M 813.09 170.22 L 835.01 148.30 A 1.85 1.85 0 0 0 832.40 145.69 L 810.48 167.61" fill="#fff" stroke="#1c1c1c" stroke-width="1.05" />
<path d="M 818.13 179.06 L 846.77 167.20 A 1.85 1.85 0 0 0 845.35 163.78 L 816.71 175.64" fill="#fff" stroke="#1c1c1c" stroke-width="1.05" />
<circle cx="793.40" cy="187.30" r="27.5" fill="#fff" stroke="#1c1c1c" stroke-width="1.2"/>
<circle cx="793.40" cy="187.30" r="25.5" fill="none" stroke="#1c1c1c" stroke-width="1.1"/>
<circle cx="793.40" cy="187.30" r="22" fill="none" stroke="#1c1c1c" stroke-width="1.2"/>
<circle cx="793.40" cy="187.30" r="20.5" fill="none" stroke="#1c1c1c" stroke-width="1.1"/>
<circle cx="793.40" cy="187.30" r="8" fill="#fff" stroke="#1c1c1c" stroke-width="1.2"/>
<line x1="796.00" y1="179.70" x2="796.00" y2="166.80" stroke="#1c1c1c" stroke-width="0.9"/>
<line x1="790.80" y1="179.70" x2="790.80" y2="166.80" stroke="#1c1c1c" stroke-width="0.9"/>
<line x1="798.68" y1="193.35" x2="809.85" y2="199.80" stroke="#1c1c1c" stroke-width="0.9"/>
<line x1="801.28" y1="188.85" x2="812.45" y2="195.30" stroke="#1c1c1c" stroke-width="0.9"/>
<line x1="785.52" y1="188.85" x2="774.35" y2="195.30" stroke="#1c1c1c" stroke-width="0.9"/>
<line x1="788.12" y1="193.35" x2="776.95" y2="199.80" stroke="#1c1c1c" stroke-width="0.9"/>
<line x1="697.00" y1="187.30" x2="890.00" y2="187.30" stroke="#555" stroke-width="0.7" stroke-dasharray="16,2.5,2.5,2.5"/>
<line x1="793.40" y1="45.00" x2="793.40" y2="300.00" stroke="#555" stroke-width="0.7" stroke-dasharray="16,2.5,2.5,2.5"/>
<line x1="747.40" y1="66.00" x2="747.40" y2="150.00" stroke="#555" stroke-width="0.7" stroke-dasharray="16,2.5,2.5,2.5"/>
<path d="M 809.46 96.21 A 92.5 92.5 0 0 1 867.27 131.63" fill="none" stroke="#1c1c1c" stroke-width="1.2" />
<polygon points="870.40,137.50 862.30,131.17 866.06,128.18" fill="#222"/>
<path d="M 705.7 280 L 705.7 279.5 Q 705.7 276.4 709 276.4 L 747 276.4" fill="none" stroke="#1c1c1c" stroke-width="1.1" />
<line x1="747.00" y1="276.40" x2="840.20" y2="276.40" stroke="#1c1c1c" stroke-width="1.1" stroke-dasharray="5.5,2.5"/>
<path d="M 840.2 276.4 L 877.5 276.4 Q 881 276.4 881 279.5 L 881 280" fill="none" stroke="#1c1c1c" stroke-width="1.1" />
<line x1="705.70" y1="280.00" x2="705.70" y2="312.00" stroke="#1c1c1c" stroke-width="1.1" stroke-dasharray="4.5,2.5"/>
<line x1="881.00" y1="280.00" x2="881.00" y2="312.00" stroke="#1c1c1c" stroke-width="1.1" stroke-dasharray="4.5,2.5"/>
<path d="M 705.7 312 L 705.7 324.2 M 705.7 317.5 Q 705.7 315.3 708.5 315.3 L 710 315.3" fill="none" stroke="#1c1c1c" stroke-width="1.1" />
<path d="M 881 312 L 881 324.2 M 881 317.5 Q 881 315.3 878.2 315.3 L 876.7 315.3" fill="none" stroke="#1c1c1c" stroke-width="1.1" />
<line x1="710.00" y1="315.30" x2="876.70" y2="315.30" stroke="#1c1c1c" stroke-width="1.1" stroke-dasharray="5.5,2.5"/>
<path d="M 708 324.2 L 703.5 324.2 Q 700 324.2 700 327.5 L 700 367.3" fill="none" stroke="#1c1c1c" stroke-width="1.1" />
<path d="M 878.7 324.2 L 884 324.2 Q 887.6 324.2 887.6 327.5 L 887.6 367.3" fill="none" stroke="#1c1c1c" stroke-width="1.1" />
<line x1="708.00" y1="324.20" x2="878.70" y2="324.20" stroke="#1c1c1c" stroke-width="1.1" stroke-dasharray="5.5,2.5"/>
<line x1="700.00" y1="332.60" x2="887.60" y2="332.60" stroke="#555" stroke-width="1.0" stroke-dasharray="5.5,2.5"/>
<line x1="770.60" y1="215.00" x2="770.60" y2="291.10" stroke="#1c1c1c" stroke-width="0.8"/>
<line x1="816.80" y1="240.00" x2="816.80" y2="291.10" stroke="#1c1c1c" stroke-width="0.8"/>
<line x1="770.60" y1="291.10" x2="816.80" y2="291.10" stroke="#3a3a3a" stroke-width="0.8"/>
<polygon points="770.60,291.10 777.10,289.70 777.10,292.50" fill="#222"/>
<polygon points="816.80,291.10 810.30,292.50 810.30,289.70" fill="#222"/>
<text transform="translate(795.30 284.30) rotate(0) scale(0.85 1)" x="0" y="5.35" font-size="15.55" fill="#1a60ab" font-weight="bold" text-anchor="middle" stroke="#1a60ab" stroke-width="0.15">I</text>
<line x1="731.80" y1="260.50" x2="731.80" y2="306.60" stroke="#666" stroke-width="0.8"/>
<line x1="856.80" y1="260.50" x2="856.80" y2="306.60" stroke="#666" stroke-width="0.8"/>
<line x1="731.80" y1="306.60" x2="856.80" y2="306.60" stroke="#3a3a3a" stroke-width="0.8"/>
<polygon points="731.80,306.60 738.30,305.20 738.30,308.00" fill="#222"/>
<polygon points="856.80,306.60 850.30,308.00 850.30,305.20" fill="#222"/>
<text transform="translate(795.70 299.00) rotate(0) scale(0.85 1)" x="0" y="4.90" font-size="14.24" fill="#1a60ab" font-weight="bold" text-anchor="middle" stroke="#1a60ab" stroke-width="0.15">C</text>
<line x1="720.70" y1="313.00" x2="720.70" y2="347.00" stroke="#666" stroke-width="0.8"/>
<line x1="866.20" y1="313.00" x2="866.20" y2="347.00" stroke="#666" stroke-width="0.8"/>
<line x1="720.70" y1="346.80" x2="866.20" y2="346.80" stroke="#3a3a3a" stroke-width="0.8"/>
<polygon points="720.70,346.80 727.20,345.40 727.20,348.20" fill="#222"/>
<polygon points="866.20,346.80 859.70,348.20 859.70,345.40" fill="#222"/>
<text transform="translate(798.40 339.50) rotate(0) scale(0.95 1)" x="0" y="5.15" font-size="14.97" fill="#161616" font-weight="normal" text-anchor="middle" stroke="#161616" stroke-width="0.45">U'</text>
<line x1="700.00" y1="367.30" x2="887.60" y2="367.30" stroke="#3a3a3a" stroke-width="0.8"/>
<polygon points="700.00,367.30 706.50,365.90 706.50,368.70" fill="#222"/>
<polygon points="887.60,367.30 881.10,368.70 881.10,365.90" fill="#222"/>
<text transform="translate(798.80 356.40) rotate(0) scale(0.95 1)" x="0" y="5.05" font-size="14.68" fill="#161616" font-weight="normal" text-anchor="middle" stroke="#161616" stroke-width="0.45">V'</text>
<rect x="8" y="409.2" width="1005" height="48.19999999999999" fill="#1467aa"/>
<line x1="8" y1="409.0" x2="1013" y2="409.0" stroke="#2a3a4a" stroke-width="1"/>
<line x1="177.9" y1="434" x2="1013" y2="434" stroke="#1a1a1a" stroke-width="1.9"/>
<line x1="8" y1="457.4" x2="1013" y2="457.4" stroke="#1a1a1a" stroke-width="1.9"/>
<line x1="8" y1="497.6" x2="1013" y2="497.6" stroke="#1a1a1a" stroke-width="1.9"/>
<line x1="8" y1="409.2" x2="8" y2="498.55" stroke="#1a1a1a" stroke-width="1.8"/>
<line x1="62.7" y1="409.2" x2="62.7" y2="498.55" stroke="#1a1a1a" stroke-width="1.8"/>
<line x1="143.9" y1="409.2" x2="143.9" y2="498.55" stroke="#1a1a1a" stroke-width="1.8"/>
<line x1="177.9" y1="409.2" x2="177.9" y2="498.55" stroke="#1a1a1a" stroke-width="1.8"/>
<line x1="205.1" y1="434" x2="205.1" y2="498.55" stroke="#1a1a1a" stroke-width="1.8"/>
<line x1="230.3" y1="434" x2="230.3" y2="498.55" stroke="#1a1a1a" stroke-width="1.8"/>
<line x1="257.3" y1="434" x2="257.3" y2="498.55" stroke="#1a1a1a" stroke-width="1.8"/>
<line x1="285.2" y1="434" x2="285.2" y2="498.55" stroke="#1a1a1a" stroke-width="1.8"/>
<line x1="310.3" y1="434" x2="310.3" y2="498.55" stroke="#1a1a1a" stroke-width="1.8"/>
<line x1="335.5" y1="434" x2="335.5" y2="498.55" stroke="#1a1a1a" stroke-width="1.8"/>
<line x1="357.3" y1="434" x2="357.3" y2="498.55" stroke="#1a1a1a" stroke-width="1.8"/>
<line x1="379.3" y1="434" x2="379.3" y2="498.55" stroke="#1a1a1a" stroke-width="1.8"/>
<line x1="403.3" y1="434" x2="403.3" y2="498.55" stroke="#1a1a1a" stroke-width="1.8"/>
<line x1="441" y1="434" x2="441" y2="498.55" stroke="#1a1a1a" stroke-width="1.8"/>
<line x1="470.3" y1="434" x2="470.3" y2="498.55" stroke="#1a1a1a" stroke-width="1.8"/>
<line x1="498" y1="434" x2="498" y2="498.55" stroke="#1a1a1a" stroke-width="1.8"/>
<line x1="519" y1="434" x2="519" y2="498.55" stroke="#1a1a1a" stroke-width="1.8"/>
<line x1="544.6" y1="434" x2="544.6" y2="498.55" stroke="#1a1a1a" stroke-width="1.8"/>
<line x1="569.8" y1="434" x2="569.8" y2="498.55" stroke="#1a1a1a" stroke-width="1.8"/>
<line x1="607.9" y1="409.2" x2="607.9" y2="498.55" stroke="#1a1a1a" stroke-width="1.8"/>
<line x1="640.2" y1="434" x2="640.2" y2="498.55" stroke="#1a1a1a" stroke-width="1.8"/>
<line x1="670" y1="434" x2="670" y2="498.55" stroke="#1a1a1a" stroke-width="1.8"/>
<line x1="698" y1="434" x2="698" y2="498.55" stroke="#1a1a1a" stroke-width="1.8"/>
<line x1="726.1" y1="434" x2="726.1" y2="498.55" stroke="#1a1a1a" stroke-width="1.8"/>
<line x1="757.8" y1="409.2" x2="757.8" y2="498.55" stroke="#1a1a1a" stroke-width="1.8"/>
<line x1="788.2" y1="434" x2="788.2" y2="498.55" stroke="#1a1a1a" stroke-width="1.8"/>
<line x1="817.8" y1="434" x2="817.8" y2="498.55" stroke="#1a1a1a" stroke-width="1.8"/>
<line x1="848" y1="434" x2="848" y2="498.55" stroke="#1a1a1a" stroke-width="1.8"/>
<line x1="877.4" y1="434" x2="877.4" y2="498.55" stroke="#1a1a1a" stroke-width="1.8"/>
<line x1="908.8" y1="434" x2="908.8" y2="498.55" stroke="#1a1a1a" stroke-width="1.8"/>
<line x1="940.4" y1="434" x2="940.4" y2="498.55" stroke="#1a1a1a" stroke-width="1.8"/>
<line x1="972.8" y1="434" x2="972.8" y2="498.55" stroke="#1a1a1a" stroke-width="1.8"/>
<line x1="1013" y1="409.2" x2="1013" y2="498.55" stroke="#1a1a1a" stroke-width="1.8"/>
<text x="38.80" y="437.2" font-size="12" font-weight="bold" fill="#ffffff" text-anchor="middle" textLength="40.5" lengthAdjust="spacingAndGlyphs" >НАСОС</text>
<text x="103.00" y="424.9" font-size="12" font-weight="bold" fill="#ffffff" text-anchor="middle" textLength="73.8" lengthAdjust="spacingAndGlyphs" >ДВИГАТЕЛЬ</text>
<text x="101.75" y="437.2" font-size="12" font-weight="bold" fill="#ffffff" text-anchor="middle" textLength="47" lengthAdjust="spacingAndGlyphs" >фланцы</text>
<text x="101.30" y="451.1" font-size="12" font-weight="bold" fill="#ffffff" text-anchor="middle" textLength="44" lengthAdjust="spacingAndGlyphs" xml:space="preserve">B3 - B5</text>
<text x="162.40" y="438" font-size="12" font-weight="bold" fill="#ffffff" text-anchor="middle" textLength="21.5" lengthAdjust="spacingAndGlyphs" >кВт</text>
<text x="402.50" y="427" font-size="12" font-weight="bold" fill="#ffffff" text-anchor="middle" textLength="108" lengthAdjust="spacingAndGlyphs" xml:space="preserve">РАЗМЕРЫ  - ММ -</text>
<text x="683.50" y="427" font-size="12" font-weight="bold" fill="#ffffff" text-anchor="middle" textLength="140" lengthAdjust="spacingAndGlyphs" >ОПОРНАЯ ПЛИТА -ММ-</text>
<text x="882.30" y="427" font-size="12" font-weight="bold" fill="#ffffff" text-anchor="middle" textLength="187.5" lengthAdjust="spacingAndGlyphs" xml:space="preserve">** РАЗМЕРЫ ФЛАНЦЕВ  - ММ -</text>
<text x="192.30" y="451" font-size="12" font-weight="bold" fill="#ffffff" text-anchor="middle" >A</text>
<text x="218.50" y="451" font-size="12" font-weight="bold" fill="#ffffff" text-anchor="middle" >B</text>
<text x="244.60" y="451" font-size="12" font-weight="bold" fill="#ffffff" text-anchor="middle" >C</text>
<text x="272.05" y="451" font-size="12" font-weight="bold" fill="#ffffff" text-anchor="middle" >D</text>
<text x="298.55" y="451" font-size="12" font-weight="bold" fill="#ffffff" text-anchor="middle" >E</text>
<text x="323.70" y="451" font-size="12" font-weight="bold" fill="#ffffff" text-anchor="middle" >F</text>
<text x="347.20" y="451" font-size="12" font-weight="bold" fill="#ffffff" text-anchor="middle" >G</text>
<text x="369.10" y="451" font-size="12" font-weight="bold" fill="#ffffff" text-anchor="middle" textLength="18" lengthAdjust="spacingAndGlyphs" >Hs</text>
<text x="392.10" y="451" font-size="12" font-weight="bold" fill="#ffffff" text-anchor="middle" textLength="19" lengthAdjust="spacingAndGlyphs" >Hd</text>
<text x="422.95" y="451" font-size="12" font-weight="bold" fill="#ffffff" text-anchor="middle" >I</text>
<text x="456.45" y="451" font-size="12" font-weight="bold" fill="#ffffff" text-anchor="middle" textLength="17" lengthAdjust="spacingAndGlyphs" >*L</text>
<text x="484.95" y="451" font-size="12" font-weight="bold" fill="#ffffff" text-anchor="middle" textLength="10.5" lengthAdjust="spacingAndGlyphs" >M</text>
<text x="509.30" y="451" font-size="12" font-weight="bold" fill="#ffffff" text-anchor="middle" textLength="9" lengthAdjust="spacingAndGlyphs" >N</text>
<text x="532.60" y="451" font-size="12" font-weight="bold" fill="#ffffff" text-anchor="middle" textLength="9.5" lengthAdjust="spacingAndGlyphs" >O</text>
<text x="558.00" y="451" font-size="12" font-weight="bold" fill="#ffffff" text-anchor="middle" >P</text>
<text x="589.65" y="451" font-size="12" font-weight="bold" fill="#ffffff" text-anchor="middle" textLength="9.5" lengthAdjust="spacingAndGlyphs" >Q</text>
<text x="624.85" y="451" font-size="12" font-weight="bold" fill="#ffffff" text-anchor="middle" textLength="12" lengthAdjust="spacingAndGlyphs" >R’</text>
<text x="655.90" y="451" font-size="12" font-weight="bold" fill="#ffffff" text-anchor="middle" textLength="12" lengthAdjust="spacingAndGlyphs" >S’</text>
<text x="684.80" y="451" font-size="12" font-weight="bold" fill="#ffffff" text-anchor="middle" textLength="12" lengthAdjust="spacingAndGlyphs" >T’</text>
<text x="712.85" y="451" font-size="12" font-weight="bold" fill="#ffffff" text-anchor="middle" textLength="12" lengthAdjust="spacingAndGlyphs" >U’</text>
<text x="742.75" y="451" font-size="12" font-weight="bold" fill="#ffffff" text-anchor="middle" textLength="12" lengthAdjust="spacingAndGlyphs" >V’</text>
<text x="773.80" y="451" font-size="12" font-weight="bold" fill="#ffffff" text-anchor="middle" >R</text>
<text x="803.80" y="451" font-size="12" font-weight="bold" fill="#ffffff" text-anchor="middle" >S</text>
<text x="833.70" y="451" font-size="12" font-weight="bold" fill="#ffffff" text-anchor="middle" >T</text>
<text x="863.50" y="451" font-size="12" font-weight="bold" fill="#ffffff" text-anchor="middle" >U</text>
<text x="893.90" y="451" font-size="12" font-weight="bold" fill="#ffffff" text-anchor="middle" >V</text>
<text x="925.40" y="451" font-size="12" font-weight="bold" fill="#ffffff" text-anchor="middle" >Z</text>
<text x="957.40" y="451" font-size="12" font-weight="bold" fill="#ffffff" text-anchor="middle" textLength="27" lengthAdjust="spacingAndGlyphs" >DNs</text>
<text x="993.70" y="451" font-size="12" font-weight="bold" fill="#ffffff" text-anchor="middle" textLength="25.5" lengthAdjust="spacingAndGlyphs" >DNd</text>
<text x="37.40" y="482.6" font-size="12" font-weight="normal" fill="#1e1e1e" text-anchor="middle" textLength="41.5" lengthAdjust="spacingAndGlyphs" xml:space="preserve">HTM 15</text>
<text x="100.30" y="482.6" font-size="12" font-weight="normal" fill="#1e1e1e" text-anchor="middle" textLength="36.2" lengthAdjust="spacingAndGlyphs" xml:space="preserve">G 80 B</text>
<text x="161.00" y="482.6" font-size="12" font-weight="normal" fill="#1e1e1e" text-anchor="middle" >1,1</text>
<text x="192.00" y="482.6" font-size="12" font-weight="normal" fill="#1e1e1e" text-anchor="middle" textLength="18.5" lengthAdjust="spacingAndGlyphs" >150</text>
<text x="218.20" y="482.6" font-size="12" font-weight="normal" fill="#1e1e1e" text-anchor="middle" textLength="18.5" lengthAdjust="spacingAndGlyphs" >230</text>
<text x="244.30" y="482.6" font-size="12" font-weight="normal" fill="#1e1e1e" text-anchor="middle" textLength="18.5" lengthAdjust="spacingAndGlyphs" >125</text>
<text x="271.75" y="482.6" font-size="12" font-weight="normal" fill="#1e1e1e" text-anchor="middle" textLength="18.5" lengthAdjust="spacingAndGlyphs" >100</text>
<text x="298.25" y="482.6" font-size="12" font-weight="normal" fill="#1e1e1e" text-anchor="middle" textLength="12.5" lengthAdjust="spacingAndGlyphs" >80</text>
<text x="323.40" y="482.6" font-size="12" font-weight="normal" fill="#1e1e1e" text-anchor="middle" textLength="12.5" lengthAdjust="spacingAndGlyphs" >28</text>
<text x="346.90" y="482.6" font-size="12" font-weight="normal" fill="#1e1e1e" text-anchor="middle" textLength="12.5" lengthAdjust="spacingAndGlyphs" >52</text>
<text x="368.80" y="482.6" font-size="12" font-weight="normal" fill="#1e1e1e" text-anchor="middle" textLength="12.5" lengthAdjust="spacingAndGlyphs" >42</text>
<text x="391.80" y="482.6" font-size="12" font-weight="normal" fill="#1e1e1e" text-anchor="middle" textLength="12.5" lengthAdjust="spacingAndGlyphs" >13</text>
<text x="456.15" y="482.6" font-size="12" font-weight="normal" fill="#1e1e1e" text-anchor="middle" textLength="18.5" lengthAdjust="spacingAndGlyphs" >232</text>
<text x="484.65" y="482.6" font-size="12" font-weight="normal" fill="#1e1e1e" text-anchor="middle" textLength="12.5" lengthAdjust="spacingAndGlyphs" >66</text>
<text x="509.00" y="482.6" font-size="12" font-weight="normal" fill="#1e1e1e" text-anchor="middle" textLength="12.5" lengthAdjust="spacingAndGlyphs" >50</text>
<text x="532.30" y="482.6" font-size="12" font-weight="normal" fill="#1e1e1e" text-anchor="middle" textLength="18.5" lengthAdjust="spacingAndGlyphs" >135</text>
<text x="557.70" y="482.6" font-size="12" font-weight="normal" fill="#1e1e1e" text-anchor="middle" textLength="18.5" lengthAdjust="spacingAndGlyphs" >200</text>
<text x="624.55" y="482.6" font-size="12" font-weight="normal" fill="#1e1e1e" text-anchor="middle" textLength="18.5" lengthAdjust="spacingAndGlyphs" >120</text>
<text x="655.60" y="482.6" font-size="12" font-weight="normal" fill="#1e1e1e" text-anchor="middle" textLength="18.5" lengthAdjust="spacingAndGlyphs" >302</text>
<text x="684.50" y="482.6" font-size="12" font-weight="normal" fill="#1e1e1e" text-anchor="middle" textLength="18.5" lengthAdjust="spacingAndGlyphs" >350</text>
<text x="712.55" y="482.6" font-size="12" font-weight="normal" fill="#1e1e1e" text-anchor="middle" textLength="18.5" lengthAdjust="spacingAndGlyphs" >157</text>
<text x="742.45" y="482.6" font-size="12" font-weight="normal" fill="#1e1e1e" text-anchor="middle" textLength="18.5" lengthAdjust="spacingAndGlyphs" >205</text>
<text x="773.50" y="482.6" font-size="12" font-weight="normal" fill="#1e1e1e" text-anchor="middle" textLength="18.5" lengthAdjust="spacingAndGlyphs" >110</text>
<text x="803.50" y="482.6" font-size="12" font-weight="normal" fill="#1e1e1e" text-anchor="middle" textLength="18.5" lengthAdjust="spacingAndGlyphs" >153</text>
<text x="833.40" y="482.6" font-size="12" font-weight="normal" fill="#1e1e1e" text-anchor="middle" textLength="12.5" lengthAdjust="spacingAndGlyphs" >18</text>
<text x="863.20" y="482.6" font-size="12" font-weight="normal" fill="#1e1e1e" text-anchor="middle" textLength="12.5" lengthAdjust="spacingAndGlyphs" >18</text>
<text x="893.60" y="482.6" font-size="12" font-weight="normal" fill="#1e1e1e" text-anchor="middle" textLength="18.5" lengthAdjust="spacingAndGlyphs" >125</text>
<text x="925.10" y="482.6" font-size="12" font-weight="normal" fill="#1e1e1e" text-anchor="middle" textLength="18.5" lengthAdjust="spacingAndGlyphs" >168</text>
<text x="957.10" y="482.6" font-size="12" font-weight="normal" fill="#1e1e1e" text-anchor="middle" textLength="12.5" lengthAdjust="spacingAndGlyphs" >50</text>
<text x="993.40" y="482.6" font-size="12" font-weight="normal" fill="#1e1e1e" text-anchor="middle" textLength="12.5" lengthAdjust="spacingAndGlyphs" >40</text>
<text x="423.15" y="477.5" font-size="12.5" font-weight="normal" fill="#1e1e1e" text-anchor="middle" textLength="11.5" lengthAdjust="spacingAndGlyphs" >2”</text>
<text x="422.45" y="488" font-size="12" font-weight="normal" fill="#1e1e1e" text-anchor="middle" textLength="26.8" lengthAdjust="spacingAndGlyphs" >вход</text>
<text x="576.5" y="477" font-size="12.5" fill="#1e1e1e" textLength="11" lengthAdjust="spacingAndGlyphs">1”</text>
<text x="588.7" y="477" font-size="10.5" fill="#1e1e1e" textLength="12.3" lengthAdjust="spacingAndGlyphs">1/2</text>
<text x="588.70" y="487.8" font-size="12" font-weight="normal" fill="#1e1e1e" text-anchor="middle" textLength="33.7" lengthAdjust="spacingAndGlyphs" >выход</text>
<text x="10.8" y="520.2" font-size="12.6" fill="#1e1e1e" stroke="#1e1e1e" stroke-width="0.2" textLength="170.2" lengthAdjust="spacingAndGlyphs">* Размеры могут отличаться</text>
<text x="10.8" y="536.5" font-size="12.6" fill="#1e1e1e" stroke="#1e1e1e" stroke-width="0.2" textLength="367.2" lengthAdjust="spacingAndGlyphs">** Дополнительные принадлежности:опорная плита, фланцы</text>
</svg></body></html>
